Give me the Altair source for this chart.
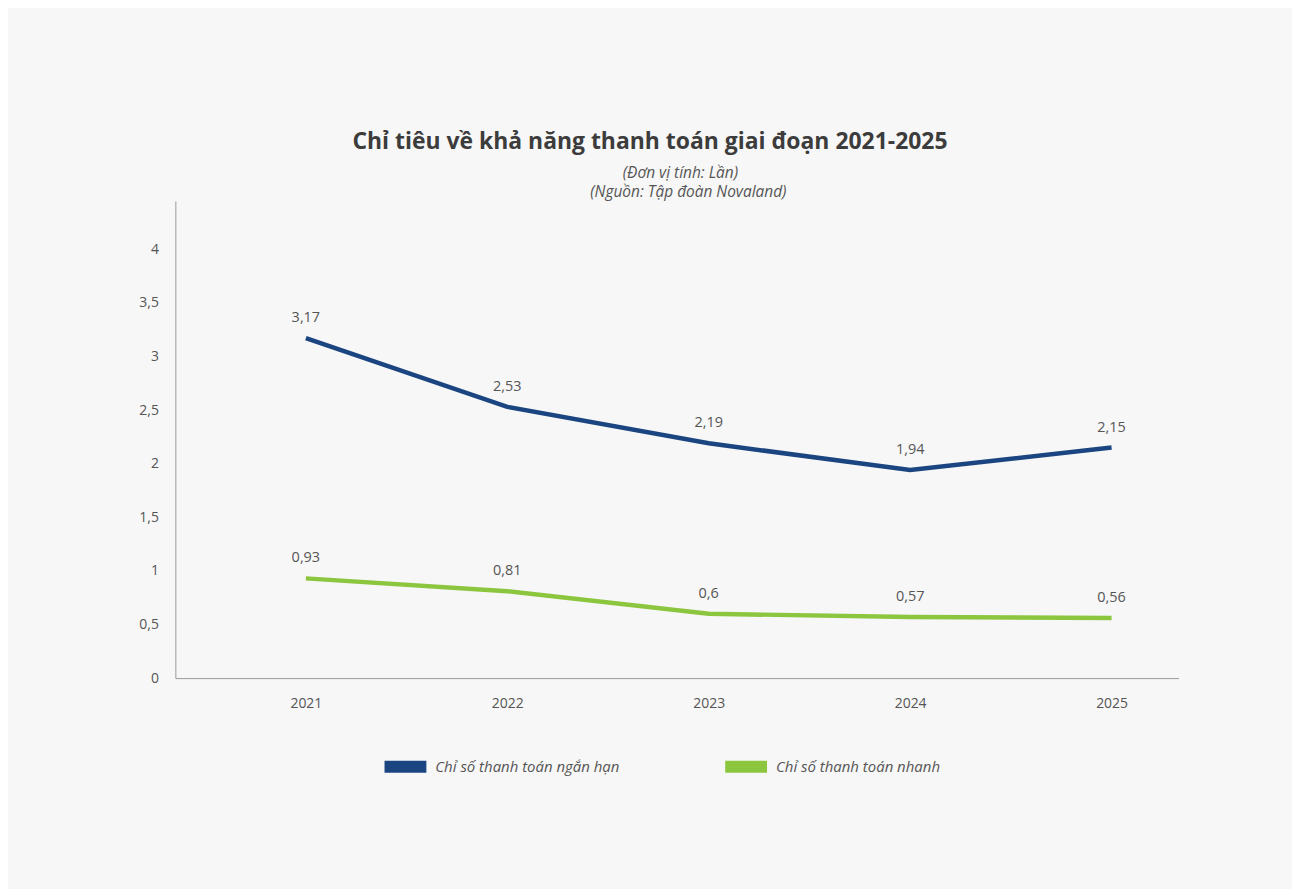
import altair as alt
import pandas as pd

years = [2021, 2022, 2023, 2024, 2025]
series_names = ["Chỉ số thanh toán ngắn hạn", "Chỉ số thanh toán nhanh"]
current_ratio = [3.17, 2.53, 2.19, 1.94, 2.15]
quick_ratio = [0.93, 0.81, 0.60, 0.57, 0.56]
colors = ["#1b4580", "#8cc63f"]
y_ticks = [0, 0.5, 1, 1.5, 2, 2.5, 3, 3.5, 4]
title_text = "Chỉ tiêu về khả năng thanh toán giai đoạn 2021-2025"
subtitle_lines = ["(Đơn vị tính: Lần)", "(Nguồn: Tập đoàn Novaland)"]

rows = []
for name, vals in zip(series_names, [current_ratio, quick_ratio]):
    for y, v in zip(years, vals):
        rows.append({"Năm": y, "Chuỗi": name, "Giá trị": v,
                     "Nhãn": f"{v:g}".replace(".", ",")})
df = pd.DataFrame(rows)

FONT = "Open Sans"
GREY = "#555555"

x = alt.X("Năm:Q", scale=alt.Scale(domain=[2020.352, 2025.332], nice=False, zero=False),
          axis=alt.Axis(values=years, format="d", title=None, grid=False, ticks=False,
                        domainColor="#9a9a9a", labelColor=GREY, labelFontSize=14,
                        labelPadding=19, labelFont=FONT))
y = alt.Y("Giá trị:Q", scale=alt.Scale(domain=[0, 4.45], nice=False),
          axis=alt.Axis(values=y_ticks, title=None, grid=False, ticks=False,
                        domainColor="#9a9a9a", labelColor=GREY, labelFontSize=14,
                        labelPadding=17, labelFont=FONT,
                        labelExpr="replace(format(datum.value, ''), '.', ',')"))
color = alt.Color("Chuỗi:N", scale=alt.Scale(domain=series_names, range=colors),
                  legend=alt.Legend(title=None, orient="none", direction="horizontal",
                                    columns=2, legendX=204, legendY=541,
                                    symbolType="M-1,0H1", symbolSize=1764,
                                    symbolStrokeWidth=12, labelFontSize=15,
                                    labelFontStyle="italic", labelColor=GREY,
                                    labelFont=FONT, labelLimit=400, labelOffset=3,
                                    columnPadding=82))

base = alt.Chart(df)
lines = base.mark_line(strokeWidth=4.5).encode(x=x, y=y, color=color)
labels = base.mark_text(dy=-20, fontSize=14.5, color=GREY, font=FONT).encode(
    x=x, y=y, text="Nhãn:N")

sub_df = pd.DataFrame({"line": subtitle_lines})
sub1 = alt.Chart(sub_df).transform_filter(
    alt.datum.line == subtitle_lines[0]
).mark_text(font=FONT, fontSize=15.5, fontStyle="italic", color=GREY,
            align="center", baseline="middle").encode(
    text="line:N", x=alt.value(507), y=alt.value(-28))
sub2 = alt.Chart(sub_df).transform_filter(
    alt.datum.line == subtitle_lines[1]
).mark_text(font=FONT, fontSize=15.5, fontStyle="italic", color=GREY,
            align="center", baseline="middle").encode(
    text="line:N", x=alt.value(515), y=alt.value(-9))

chart = alt.layer(lines, labels, sub1, sub2).properties(
    width=1007, height=479,
    padding={"left": 168, "top": 192, "right": 114, "bottom": 210},
    autosize=alt.AutoSizeParams(type="none"),
    background="#f7f7f7",
    title=alt.TitleParams(
        text=title_text,
        anchor="middle", frame="group", dx=-27, offset=12,
        font=FONT, fontSize=23, fontWeight="bold", color="#3c3c3c"),
).configure_view(stroke=None)

chart.save("out.html", embed_options={"renderer": "svg", "actions": False})
